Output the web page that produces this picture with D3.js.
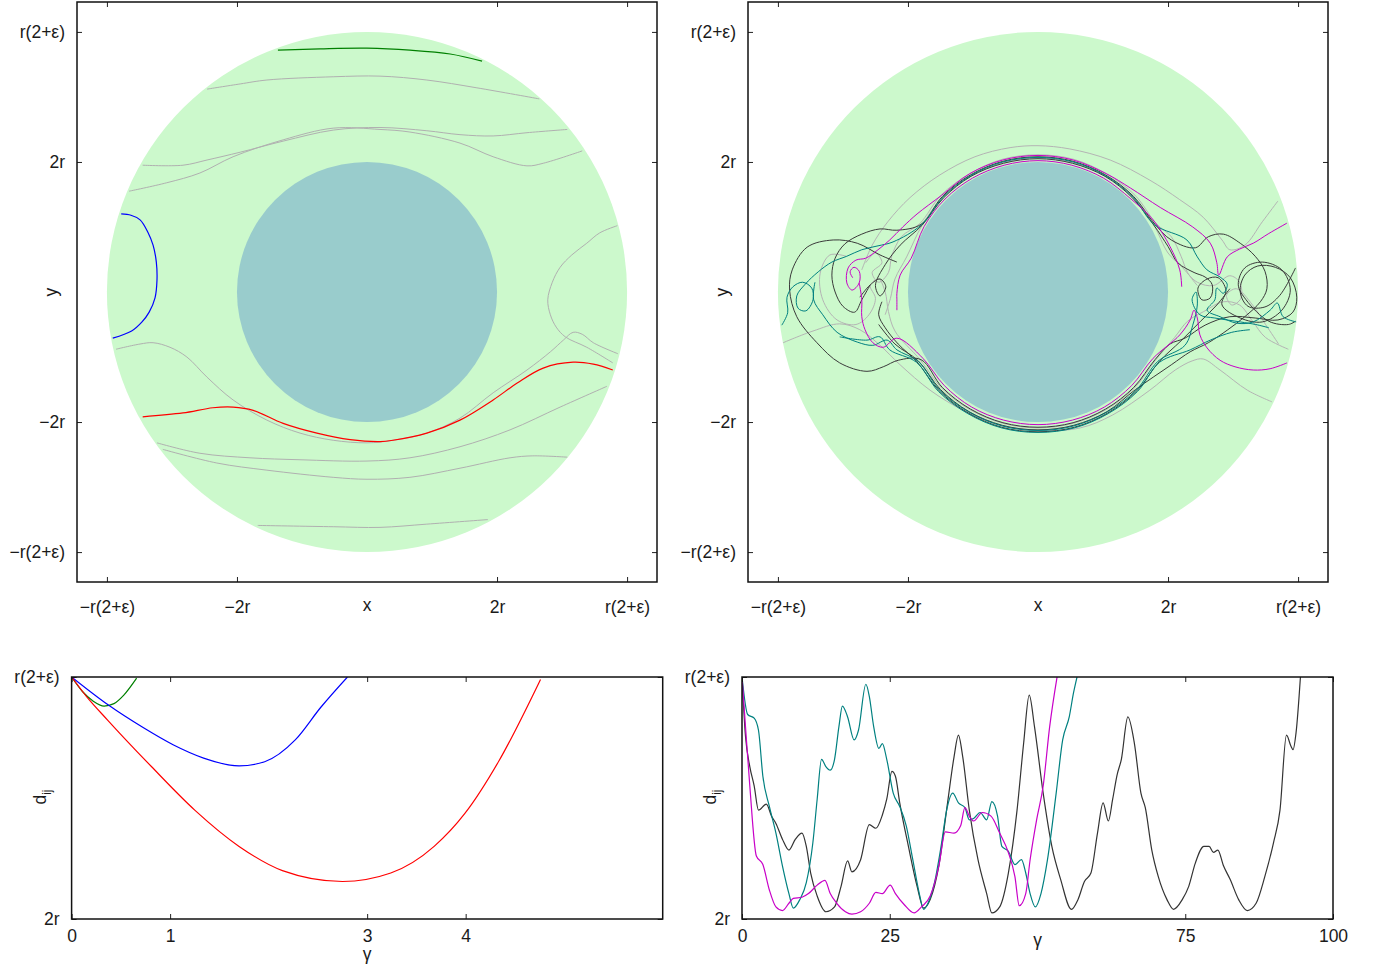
<!DOCTYPE html>
<html>
<head>
<meta charset="utf-8">
<script src="https://cdn.jsdelivr.net/npm/d3@7"></script>
<style>
  body { margin: 0; background: #fff; }
  svg text { font-family: "Liberation Sans", Arial, sans-serif; fill: #1a1a1a; }
</style>
</head>
<body>
<script>
// ---- data (lengths in units of r, with eps = 2: 2r = 2, r(2+eps) = 4) ----
const innerRadius = 2;
const outerRadius = 4;
const mapLimit = 4.46;
const mapTicks = [-4, -2, 2, 4];
const mapTickLabels = ['−r(2+ε)', '−2r', '2r', 'r(2+ε)'];

// top-left: short collisions
const leftGreen = [[-1.37,3.72],[-0.72,3.74],[0,3.75],[0.66,3.72],[1.28,3.66],[1.77,3.55]];
const leftBlue = [[-3.78,1.2],[-3.63,1.18],[-3.49,1.11],[-3.37,0.92],[-3.29,0.72],[-3.24,0.46],[-3.23,0.18],[-3.26,-0.09],[-3.35,-0.31],[-3.46,-0.46],[-3.62,-0.6],[-3.91,-0.71]];
const leftRed = [[-3.45,-1.92],[-2.83,-1.86],[-2.37,-1.78],[-2.06,-1.77],[-1.75,-1.82],[-1.29,-2.02],[-0.77,-2.17],[-0.26,-2.27],[0.2,-2.3],[0.4,-2.28],[0.92,-2.17],[1.43,-1.97],[1.94,-1.66],[2.31,-1.4],[2.71,-1.17],[3.17,-1.08],[3.48,-1.11],[3.78,-1.2]];
const leftGrey = [
  [[-2.46,3.12],[-1.95,3.2],[-1.54,3.26],[-0.52,3.31],[0.2,3.32],[0.92,3.26],[1.69,3.14],[2.65,2.97]],
  [[-3.45,1.95],[-2.83,1.95],[-2.46,2.03],[-1.95,2.15],[-1.29,2.32],[-0.52,2.49],[0.2,2.53],[0.92,2.48],[1.43,2.42],[1.94,2.4],[2.46,2.45],[3.08,2.5]],
  [[-3.66,1.55],[-3.08,1.68],[-2.57,1.83],[-2.06,2.08],[-1.29,2.34],[-0.52,2.52],[0.2,2.5],[0.66,2.46],[1.43,2.29],[1.94,2.08],[2.46,1.94],[2.71,1.98],[3.31,2.17]],
  [[-3.86,-0.88],[-3.49,-0.8],[-3.29,-0.78],[-3.03,-0.85],[-2.77,-1.0],[-2.46,-1.31],[-2.06,-1.66],[-1.54,-1.97],[-1.03,-2.17],[-0.52,-2.28],[0,-2.32],[0.4,-2.28],[0.92,-2.17],[1.43,-1.94],[1.94,-1.55],[2.46,-1.2],[2.82,-0.92],[3.02,-0.74],[3.17,-0.62],[3.31,-0.65],[3.48,-0.78],[3.86,-0.95]],
  [[3.85,1.02],[3.58,0.91],[3.38,0.75],[3.15,0.57],[2.97,0.38],[2.85,0.15],[2.78,-0.12],[2.82,-0.35],[2.91,-0.54],[3.05,-0.69],[3.38,-0.85],[3.78,-1.09]],
  [[-3.23,-2.32],[-2.57,-2.48],[-1.8,-2.55],[-1.03,-2.58],[0,-2.6],[0.66,-2.55],[1.43,-2.38],[2.2,-2.12],[2.97,-1.77],[3.69,-1.45]],
  [[-3.14,-2.42],[-2.31,-2.63],[-1.54,-2.74],[-0.52,-2.85],[0,-2.88],[0.66,-2.85],[1.43,-2.71],[2.2,-2.55],[2.55,-2.52],[3.08,-2.54]],
  [[-1.68,-3.59],[-0.52,-3.61],[0.2,-3.62],[0.92,-3.57],[1.86,-3.5]]
];

// top-right: long, chaotic collisions
const rightGrey = [
  [[-2.71,0.34],[-2.55,0.72],[-2.31,1.08],[-1.97,1.45],[-1.51,1.8],[-0.97,2.08],[-0.43,2.22],[0,2.25],[0.49,2.2],[1.11,2.03],[1.72,1.72],[2.18,1.42],[2.54,1.15],[2.83,0.8],[2.95,0.65],[3.18,0.72],[3.45,1.08],[3.69,1.4]],
  [[-3.92,-0.78],[-3.46,-0.6],[-3.05,-0.49],[-2.74,-0.58],[-2.43,-0.82],[-2.12,-1.12],[-1.66,-1.51],[-1.15,-1.82],[-0.58,-2.05],[0,-2.13],[0.65,-2.09],[1.15,-1.89],[1.72,-1.51],[2.11,-1.2],[2.37,-1.06],[2.54,-1.03],[2.8,-1.2],[3.22,-1.51],[3.6,-1.69]],
  [[-2.95,0.55],[-3.2,0.57],[-3.35,0.29],[-3.31,-0.12],[-3.09,-0.43],[-2.8,-0.5],[-2.6,-0.35],[-2.5,-0.1],[-2.58,0.1],[-2.45,0.2],[-2.35,0.0],[-2.3,-0.3],[-2.2,-0.6],[-1.81,-1.045],[-1.48,-1.48],[-1.045,-1.81],[-0.54,-2.02],[0,-2.09],[0.54,-2.02],[1.045,-1.81],[1.48,-1.48],[1.81,-1.045],[2.1,-0.7],[2.3,-0.45],[2.55,-0.3],[2.85,-0.15],[3.1,-0.2],[3.3,-0.45],[3.5,-0.7],[3.85,-0.88]],
  [[-2.35,-0.35],[-2.27,-0.1],[-2.2,0.2],[-2.02,0.54],[-1.78,1.03],[-1.46,1.46],[-1.03,1.78],[-0.53,1.99],[0,2.06],[0.53,1.99],[1.03,1.78],[1.46,1.46],[1.78,1.03],[2.0,0.6],[2.2,0.4],[2.45,0.15],[2.7,0.1],[2.95,0.25],[3.1,0.15],[3.12,-0.1],[2.98,-0.2],[2.9,-0.05],[3.05,0.05],[3.3,-0.2],[3.5,-0.5],[3.7,-0.8]],
  [[-2.65,0.45],[-2.5,0.6],[-2.4,0.45],[-2.55,0.3],[-2.45,0.15],[-2.3,0.3],[-2.25,0.55],[-2.1,0.85],[-1.82,1.05],[-1.49,1.49],[-1.05,1.82],[-0.55,2.04],[0,2.11],[0.55,2.04],[1.05,1.82],[1.49,1.49],[1.82,1.05],[2.05,0.85],[2.2,0.55],[2.3,0.3],[2.45,0.1]]
];
const rightDark = [
  [[-2.17,0.46],[-2.43,0.57],[-2.78,0.75],[-3.15,0.8],[-3.55,0.69],[-3.78,0.34],[-3.82,0.03],[-3.71,-0.38],[-3.4,-0.78],[-3.05,-1.09],[-2.63,-1.22],[-2.38,-1.15],[-2.15,-1.05],[-1.8,-1.04],[-1.47,-1.47],[-1.04,-1.8],[-0.54,-2.01],[0,-2.08],[0.54,-2.01],[1.04,-1.8],[1.47,-1.47],[1.8,-1.04],[2.03,-0.8],[2.26,-0.71],[2.57,-0.51],[2.95,-0.38],[3.34,-0.4],[3.69,-0.43],[3.92,-0.31],[3.98,-0.08],[3.88,0.22],[3.65,0.38],[3.38,0.4],[3.18,0.26],[3.11,0],[3.23,-0.22],[3.49,-0.23],[3.72,-0.05],[3.96,0.37]],
  [[-2.58,0.11],[-2.71,-0.12],[-2.82,-0.31],[-3.0,-0.22],[-3.12,0],[-3.17,0.26],[-3.12,0.52],[-2.97,0.74],[-2.71,0.89],[-2.43,0.97],[-2.17,0.95],[-1.8,1.04],[-1.47,1.47],[-1.04,1.8],[-0.54,2.01],[0,2.08],[0.54,2.01],[1.04,1.8],[1.47,1.47],[1.8,1.04],[2.05,0.8],[2.42,0.68],[2.62,0.85],[2.85,0.89],[3.11,0.75],[3.34,0.55],[3.49,0.32],[3.52,0.05],[3.42,-0.15],[3.18,-0.38],[2.92,-0.58],[2.62,-0.78],[2.34,-0.92],[2.05,-1.12],[1.5,-1.5],[1.06,-1.84],[0.55,-2.05],[0,-2.12],[-0.55,-2.05],[-1.06,-1.84],[-1.5,-1.5],[-1.84,-1.06],[-2.2,-0.8],[-2.45,-0.5]],
  [[-2.74,-0.08],[-2.58,0.11],[-2.43,0.2],[-2.34,0.08],[-2.43,-0.06],[-2.5,0.1],[-2.35,0.42],[-2.12,0.72],[-1.78,1.03],[-1.45,1.45],[-1.03,1.78],[-0.53,1.98],[0,2.05],[0.53,1.98],[1.03,1.78],[1.45,1.45],[1.78,1.03],[2.0,0.7],[2.15,0.45],[2.4,0.3],[2.57,0.23],[2.68,0.11],[2.65,-0.09],[2.52,-0.12],[2.46,0.06],[2.6,0.2],[2.77,0.22],[2.89,0.03],[2.83,-0.2],[3.11,-0.4],[3.45,-0.46],[3.75,-0.28],[3.88,0.03],[3.75,0.34],[3.45,0.46],[3.18,0.37],[3.08,0.11],[3.2,-0.12],[3.55,-0.45],[3.85,-0.5],[3.96,-0.45]],
  [[2.95,0.05],[2.75,-0.2],[2.5,-0.45],[2.2,-0.75],[1.86,-1.075],[1.52,-1.52],[1.075,-1.86],[0.56,-2.08],[0,-2.15],[-0.56,-2.08],[-1.075,-1.86],[-1.52,-1.52],[-1.86,-1.075],[-2.15,-0.8],[-2.35,-0.55],[-2.45,-0.35],[-2.4,-0.15]]
];
const rightTeal = [
  [[-3.94,-0.51],[-3.85,-0.32],[-3.86,-0.08],[-3.77,0.08],[-3.62,0.15],[-3.48,0.06],[-3.46,-0.12],[-3.57,-0.29],[-3.69,-0.25],[-3.71,-0.06],[-3.58,0.12],[-3.38,0.31],[-3.17,0.46],[-2.94,0.55],[-2.71,0.65],[-2.46,0.71],[-2.23,0.77],[-1.79,1.035],[-1.46,1.46],[-1.035,1.79],[-0.54,2.0],[0,2.07],[0.54,2.0],[1.035,1.79],[1.46,1.46],[1.79,1.035],[2.29,0.8],[2.45,0.54],[2.6,0.34],[2.8,0.23],[2.91,0.12],[2.85,-0.02],[2.75,0.06],[2.72,-0.12],[2.6,-0.28],[2.8,-0.38],[3.06,-0.48],[3.31,-0.46],[3.57,-0.28],[3.68,-0.17],[3.77,-0.38],[3.97,-0.46]],
  [[-3.43,0.15],[-3.45,-0.12],[-3.31,-0.35],[-3.09,-0.62],[-2.78,-0.77],[-2.54,-0.82],[-2.32,-0.74],[-2.17,-0.89],[-1.845,-1.065],[-1.51,-1.51],[-1.065,-1.845],[-0.55,-2.06],[0,-2.13],[0.55,-2.06],[1.065,-1.845],[1.51,-1.51],[1.845,-1.065],[2.26,-0.82],[2.38,-0.51],[2.45,-0.2],[2.43,0],[2.37,-0.12],[2.49,-0.35],[2.72,-0.4],[3.11,-0.46],[3.35,-0.5],[3.55,-0.55]],
  [[-3.05,-0.69],[-2.63,-0.74],[-2.43,-0.69],[-2.28,-0.89],[-1.87,-1.08],[-1.53,-1.53],[-1.08,-1.87],[-0.56,-2.09],[0,-2.16],[0.56,-2.09],[1.08,-1.87],[1.53,-1.53],[1.87,-1.08],[2.34,-0.89],[2.65,-0.74],[2.98,-0.62],[3.26,-0.58]]
];
const rightMagenta = [
  [[-2.85,0.22],[-2.89,0.31],[-2.83,0.38],[-2.75,0.32],[-2.75,0.14],[-2.86,0.03],[-2.94,0.14],[-2.92,0.37],[-2.8,0.49],[-2.65,0.52],[-2.46,0.65],[-2.28,0.8],[-2.08,1.0],[-1.86,1.2],[-1.485,1.485],[-1.05,1.82],[-0.54,2.03],[0,2.1],[0.54,2.03],[1.05,1.82],[1.42,1.6],[1.88,1.3],[2.38,1.0],[2.65,0.75],[2.75,0.45],[2.78,0.26],[2.91,0.54],[3.1,0.66],[3.31,0.75],[3.55,0.9],[3.83,1.06]],
  [[3.83,-1.09],[3.57,-1.18],[3.31,-1.2],[3.03,-1.15],[2.8,-1.05],[2.6,-0.86],[2.49,-0.66],[2.45,-0.4],[2.4,-0.28],[2.34,-0.43],[2.18,-0.66],[1.77,-1.02],[1.44,-1.44],[1.02,-1.77],[0.53,-1.97],[0,-2.04],[-0.53,-1.97],[-1.02,-1.77],[-1.44,-1.44],[-1.77,-1.02],[-2.17,-0.71],[-2.38,-0.85],[-2.54,-0.78],[-2.66,-0.58],[-2.71,-0.38],[-2.71,-0.12],[-2.75,0.14]],
  [[-2.17,-0.28],[-2.17,-0.12],[-2.17,-0.02],[-2.12,0.26],[-1.95,0.52],[-1.75,1.01],[-1.43,1.43],[-1.01,1.75],[-0.52,1.95],[0,2.02],[0.52,1.95],[1.01,1.75],[1.43,1.43],[1.77,1.11],[2.03,0.7],[2.18,0.34],[2.21,0.08]]
];

// bottom panels: distance d_ij against gamma
const distTicks = [2, 4];
const distTickLabels = ['2r', 'r(2+ε)'];
const shortGammaTicks = [0, 1, 3, 4];
const longGammaTicks = [0, 25, 75, 100];

const shortGreen = [[0,4.0],[0.11,3.88],[0.22,3.8],[0.33,3.76],[0.43,3.78],[0.53,3.85],[0.66,3.99]];
const shortBlue = [[0,4.0],[0.37,3.77],[0.73,3.58],[1.03,3.44],[1.34,3.33],[1.7,3.265],[1.96,3.3],[2.27,3.48],[2.53,3.75],[2.8,4.0]];
const shortRed = [[0,4.0],[0.15,3.84],[0.37,3.64],[0.81,3.26],[1.25,2.9],[1.7,2.6],[2.14,2.4],[2.75,2.31],[3.24,2.38],[3.68,2.6],[3.99,2.87],[4.34,3.31],[4.76,3.98]];

const longDark = [[0,4.0],[0.59,3.51],[1.32,3.26],[2.06,3.1],[2.79,2.9],[4.12,2.95],[5.0,2.85],[5.74,2.79],[6.84,2.66],[7.94,2.57],[9.04,2.66],[10.15,2.71],[10.88,2.6],[11.62,2.38],[12.72,2.19],[14.19,2.06],[15.66,2.1],[16.76,2.27],[17.87,2.48],[18.6,2.39],[20.07,2.49],[21.54,2.78],[22.65,2.75],[23.75,2.86],[24.49,2.99],[25.37,3.22],[25.96,3.18],[26.69,2.96],[28.16,2.6],[29.63,2.27],[30.74,2.09],[31.84,2.16],[33.31,2.44],[34.78,2.96],[35.88,3.34],[36.62,3.52],[37.35,3.34],[38.46,2.9],[39.93,2.49],[41.4,2.21],[42.28,2.05],[43.6,2.1],[45.07,2.38],[46.54,2.9],[47.65,3.45],[48.6,3.85],[49.49,3.59],[50.96,3.04],[52.43,2.6],[53.9,2.33],[55.74,2.08],[56.84,2.16],[57.94,2.31],[59.04,2.38],[60.15,2.71],[61.1,2.96],[61.99,2.81],[62.72,2.99],[63.46,3.19],[64.19,3.32],[65.29,3.67],[66.4,3.45],[67.5,3.04],[68.24,2.92],[69.34,2.57],[70.44,2.35],[71.91,2.16],[73.01,2.08],[74.49,2.16],[75.59,2.27],[76.69,2.46],[78.16,2.6],[79.04,2.6],[79.78,2.55],[80.51,2.57],[81.47,2.44],[82.57,2.33],[84.04,2.16],[85.51,2.07],[86.99,2.13],[88.46,2.35],[89.93,2.63],[91.03,2.9],[92.13,3.52],[92.87,3.43],[93.24,3.4],[93.75,3.54],[94.49,4.0]];
const longTeal = [[0,4.0],[0.96,3.69],[2.06,3.66],[2.79,3.56],[3.53,3.18],[4.63,2.93],[5.74,2.71],[6.84,2.44],[7.94,2.21],[8.68,2.09],[9.78,2.16],[10.88,2.3],[11.99,2.63],[12.72,2.99],[13.46,3.32],[14.19,3.26],[14.93,3.23],[15.66,3.32],[16.4,3.59],[16.99,3.76],[17.87,3.67],[18.97,3.48],[19.71,3.56],[20.96,3.94],[21.54,3.84],[22.28,3.59],[23.16,3.41],[23.75,3.45],[24.49,3.32],[25.59,3.04],[26.69,2.93],[27.79,2.77],[28.9,2.49],[30.0,2.21],[30.74,2.08],[31.47,2.13],[32.57,2.3],[33.68,2.6],[34.63,2.9],[35.66,3.04],[36.62,2.96],[37.72,2.92],[38.46,2.82],[39.19,2.83],[40.29,2.88],[41.4,2.82],[42.28,2.97],[43.24,2.85],[43.97,2.6],[45.07,2.56],[46.18,2.45],[47.28,2.49],[48.01,2.38],[48.75,2.21],[49.63,2.1],[50.59,2.21],[51.69,2.49],[53.16,3.04],[54.26,3.48],[55.37,3.67],[56.1,3.87],[56.69,4.0]];
const longMagenta = [[0,4.0],[0.59,3.59],[1.32,3.1],[2.43,2.52],[3.53,2.45],[4.63,2.24],[5.74,2.1],[6.84,2.07],[7.94,2.13],[8.68,2.17],[10.15,2.18],[11.25,2.21],[12.72,2.28],[14.04,2.32],[14.93,2.21],[16.03,2.13],[17.5,2.06],[18.6,2.04],[20.07,2.06],[21.54,2.13],[22.65,2.22],[23.75,2.21],[25.07,2.28],[25.96,2.21],[27.43,2.12],[29.12,2.05],[30.37,2.1],[31.84,2.19],[33.31,2.44],[34.41,2.72],[35.88,2.71],[36.99,2.77],[37.72,2.92],[38.46,2.85],[39.19,2.81],[40.66,2.88],[42.13,2.85],[43.6,2.71],[45.07,2.55],[46.18,2.35],[46.91,2.11],[48.01,2.21],[48.75,2.49],[49.85,2.82],[50.96,3.1],[52.06,3.59],[53.31,4.0]];

// ---- drawing ----
const FONT = 17.5;
const svg = d3.select('body').append('svg').attr('width', 1376).attr('height', 968);

function styleAxis(g) {
  g.attr('font-size', FONT).attr('font-family', '"Liberation Sans", Arial, sans-serif');
  g.select('.domain').remove();
  g.selectAll('.tick line').attr('stroke', '#222').attr('stroke-width', 1);
  g.selectAll('.tick text').attr('fill', '#1a1a1a');
}

function labelFor(values, labels) {
  return d => labels[values.indexOf(d)];
}

// Frame, mirrored inward ticks and tick labels for one panel
function drawFrame(box, xScale, yScale, xTicks, xFormat, yTicks, yFormat, xPad) {
  const { left, right, top, bottom } = box;
  svg.append('g').attr('transform', `translate(0,${bottom})`)
    .call(d3.axisBottom(xScale).tickValues(xTicks).tickFormat(xFormat).tickSizeInner(-5).tickSizeOuter(0).tickPadding(xPad))
    .call(styleAxis);
  svg.append('g').attr('transform', `translate(0,${top})`)
    .call(d3.axisTop(xScale).tickValues(xTicks).tickFormat('').tickSizeInner(-5).tickSizeOuter(0))
    .call(styleAxis);
  svg.append('g').attr('transform', `translate(${left},0)`)
    .call(d3.axisLeft(yScale).tickValues(yTicks).tickFormat(yFormat).tickSizeInner(-5).tickSizeOuter(0).tickPadding(12))
    .call(styleAxis);
  svg.append('g').attr('transform', `translate(${right},0)`)
    .call(d3.axisRight(yScale).tickValues(yTicks).tickFormat('').tickSizeInner(-5).tickSizeOuter(0))
    .call(styleAxis);
  svg.append('rect')
    .attr('x', left).attr('y', top)
    .attr('width', right - left).attr('height', bottom - top)
    .attr('fill', 'none').attr('stroke', '#111').attr('stroke-width', 1.5);
}

function addClip(id, box) {
  svg.append('clipPath').attr('id', id).append('rect')
    .attr('x', box.left).attr('y', box.top)
    .attr('width', box.right - box.left).attr('height', box.bottom - box.top);
}

function axisTitle(x, y, text, rotate) {
  const t = svg.append('text')
    .attr('transform', `translate(${x},${y})` + (rotate ? ' rotate(-90)' : ''))
    .attr('text-anchor', 'middle')
    .attr('font-size', FONT);
  return t.text(text);
}

function drawMap(id, box, layers) {
  const xScale = d3.scaleLinear().domain([-mapLimit, mapLimit]).range([box.left, box.right]);
  const yScale = d3.scaleLinear().domain([-mapLimit, mapLimit]).range([box.bottom, box.top]);
  addClip(id, box);
  const plot = svg.append('g').attr('clip-path', `url(#${id})`);

  plot.append('circle')
    .attr('cx', xScale(0)).attr('cy', yScale(0))
    .attr('r', xScale(outerRadius) - xScale(0))
    .attr('fill', '#ccf9cc');
  plot.append('circle')
    .attr('cx', xScale(0)).attr('cy', yScale(0))
    .attr('r', xScale(innerRadius) - xScale(0))
    .attr('fill', '#99cccc');

  // trajectories can loop back on themselves, so a parametric spline is used
  const line = d3.line().x(d => xScale(d[0])).y(d => yScale(d[1])).curve(d3.curveCatmullRom.alpha(0.5));
  layers.forEach(layer => {
    plot.append('g').selectAll('path')
      .data(layer.paths)
      .join('path')
        .attr('d', line)
        .attr('fill', 'none')
        .attr('stroke', layer.color)
        .attr('stroke-width', layer.width);
  });

  const fmt = labelFor(mapTicks, mapTickLabels);
  drawFrame(box, xScale, yScale, mapTicks, fmt, mapTicks, fmt, 19);
  const cx = (box.left + box.right) / 2;
  axisTitle(cx, 611, 'x');
  axisTitle(box.left - 20, (box.top + box.bottom) / 2, 'y', true);
}

function drawDistance(id, box, domainMax, ticks, series, gammaY) {
  const xScale = d3.scaleLinear().domain([0, domainMax]).range([box.left, box.right]);
  const yScale = d3.scaleLinear().domain([2, 4]).range([box.bottom, box.top]);
  addClip(id, box);
  const plot = svg.append('g').attr('clip-path', `url(#${id})`);
  const line = d3.line().x(d => xScale(d[0])).y(d => yScale(d[1])).curve(d3.curveMonotoneX);
  series.forEach(s => {
    plot.append('path')
      .datum(s.values)
      .attr('d', line)
      .attr('fill', 'none')
      .attr('stroke', s.color)
      .attr('stroke-width', 1.2);
  });
  drawFrame(box, xScale, yScale, ticks, d3.format('d'), distTicks, labelFor(distTicks, distTickLabels), 11);
  axisTitle((box.left + box.right) / 2, gammaY, 'γ');
  const dLabel = axisTitle(box.left - 26, 797, 'd', true);
  dLabel.append('tspan').attr('dy', 5).attr('font-size', 12).text('ij');
}

// top row
drawMap('clipTL', { left: 77, right: 657, top: 2, bottom: 582 }, [
  { paths: leftGrey, color: '#b0b0b0', width: 1 },
  { paths: [leftGreen], color: '#008000', width: 1.2 },
  { paths: [leftBlue], color: '#0000ff', width: 1.2 },
  { paths: [leftRed], color: '#ff0000', width: 1.2 }
]);
drawMap('clipTR', { left: 748, right: 1328, top: 2, bottom: 582 }, [
  { paths: rightGrey, color: '#b4b4b4', width: 1 },
  { paths: rightDark, color: '#3a3a3a', width: 1 },
  { paths: rightTeal, color: '#008080', width: 1 },
  { paths: rightMagenta, color: '#c800c8', width: 1 }
]);

// bottom row
drawDistance('clipBL', { left: 71.6, right: 662.7, top: 677, bottom: 919 }, 6, shortGammaTicks, [
  { values: shortGreen, color: '#008000' },
  { values: shortBlue, color: '#0000ff' },
  { values: shortRed, color: '#ff0000' }
], 960);
drawDistance('clipBR', { left: 742, right: 1333, top: 677, bottom: 919 }, 100, longGammaTicks, [
  { values: longDark, color: '#333333' },
  { values: longTeal, color: '#008080' },
  { values: longMagenta, color: '#c800c8' }
], 946);
</script>
</body>
</html>
